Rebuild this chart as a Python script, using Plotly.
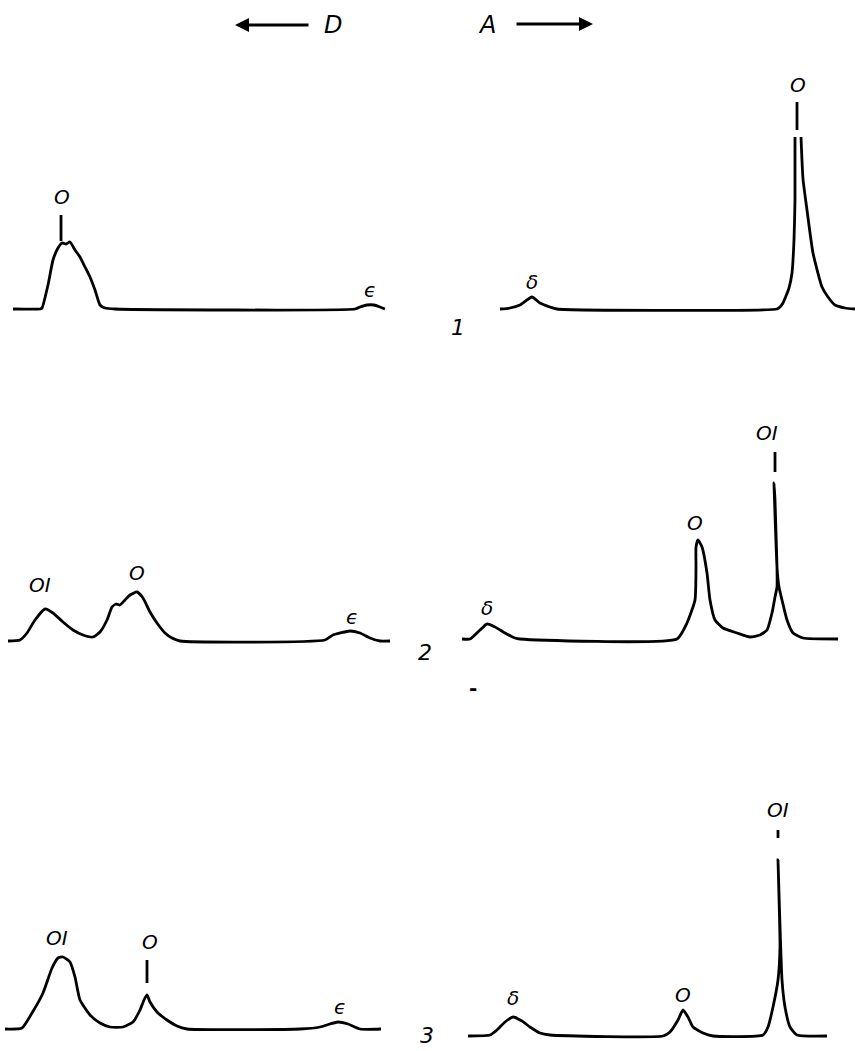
import plotly.graph_objects as go

# ---------------- data (traced densitometer curves, local units) ----------------
# Run 1, cathode side (D)
p1d_x = [0, 27, 29, 35, 40, 45, 49, 53, 57, 62, 67, 72, 77, 82, 87, 92, 102, 342, 347, 354, 361, 367, 372]
p1d_y = [0, 0, 1, 24, 49, 61, 66, 65, 67, 59, 52, 42, 32, 19, 4, 1, 0, 0, 2, 4, 4, 2, 0]
# Run 1, anode side (A)
p1a_x = [0, 10, 20, 32, 40, 50, 57, 277, 280, 283, 286, 289, 292, 294, 295, 295, None,
         301, 303, 307, 313, 322, 328, 335, 345, 355]
p1a_y = [0, 1, 4, 12, 6, 2, 0, 0, 2, 6, 13, 21, 36, 69, 109, 172, None,
         172, 130, 99, 56, 22, 12, 4, 1, 0]
# Run 2
p2d_x = [0, 12, 19, 27, 37, 45, 55, 65, 75, 85, 92, 99, 104, 108, 112, 117, 122, 129, 135, 142,
         149, 157, 164, 172, 317, 325, 342, 352, 362, 372, 382]
p2d_y = [0, 1, 8, 21, 32, 28, 19, 11, 6, 4, 9, 21, 34, 37, 36, 41, 46, 49, 43, 29,
         18, 8, 3, 0, 1, 6, 10, 8, 3, 0, 0]
p2a_x = [0, 8, 18, 25, 33, 43, 53, 58, 215, 225, 233, 234, 234, 236, 240, 245, 248, 253, 261, 275,
         288, 298, 305, 310, 313, 315, 315, 314, 313, 312, 315, 317, 320, 325, 331, 341, 376]
p2a_y = [0, 0, 9, 15, 12, 6, 1, 0, 0, 16, 39, 72, 92, 99, 92, 66, 39, 19, 11, 6,
         2, 4, 9, 26, 42, 52, 72, 106, 139, 156, 72, 52, 39, 19, 6, 1, 0]
# Run 3
p3d_x = [0, 17, 27, 38, 47, 53, 58, 65, 70, 75, 85, 95, 105, 118, 128, 135, 139, 142, 145, 152,
         162, 172, 182, 295, 315, 325, 333, 343, 355, 376]
p3d_y = [0, 1, 16, 36, 61, 71, 72, 67, 52, 29, 14, 6, 2, 2, 7, 19, 29, 34, 27, 17,
         9, 3, 0, 0, 2, 5, 7, 5, 0, 0]
p3a_x = [0, 22, 29, 37, 45, 54, 62, 72, 82, 195, 202, 210, 215, 220, 225, 235, 245, 295, 300, 305,
         310, 312, 311, 310, 314, 317, 322, 329, 359]
p3a_y = [0, 1, 6, 14, 19, 15, 9, 3, 1, 0, 4, 16, 26, 19, 9, 3, 0, 1, 9, 29,
         56, 89, 139, 176, 56, 29, 9, 1, 0]

# peak labels: (text, position, height)
p1d_labels = [("O", 49, 112), ("ϵ", 357, 19)]
p1a_labels = [("δ", 32, 27), ("O", 298, 224)]
p2d_labels = [("OI", 32, 56), ("O", 129, 68), ("ϵ", 344, 24)]
p2a_labels = [("δ", 25, 31), ("O", 233, 116), ("OI", 305, 206)]
p3d_labels = [("OI", 52, 91), ("O", 145, 87), ("ϵ", 335, 22)]
p3a_labels = [("δ", 45, 38), ("O", 215, 41), ("OI", 310, 226)]

# label leader ticks: (position, from, to)
p1d_ticks = [(48, 68, 94)]
p1a_ticks = [(297, 179, 207)]
p2d_ticks = []
p2a_ticks = [(313, 167, 187)]
p3d_ticks = [(142, 46, 69)]
p3a_ticks = [(310, 198, 206)]

run_numbers = ["1", "2", "3"]

# ---------------- layout geometry (pixels) ----------------
W_FIG, H_FIG = 855, 1051
panels = [
    # x0, width, baseline y, data
    (13, 372, 309, p1d_x, p1d_y, p1d_labels, p1d_ticks),
    (500, 355, 309, p1a_x, p1a_y, p1a_labels, p1a_ticks),
    (8, 382, 641, p2d_x, p2d_y, p2d_labels, p2d_ticks),
    (462, 376, 639, p2a_x, p2a_y, p2a_labels, p2a_ticks),
    (5, 376, 1029, p3d_x, p3d_y, p3d_labels, p3d_ticks),
    (468, 359, 1036, p3a_x, p3a_y, p3a_labels, p3a_ticks),
]
YLO, YHI = -10, 240
PAD = 3

FONT = dict(family="DejaVu Sans", color="black", style="italic")
LW = 2.8

fig = go.Figure()
layout = dict(
    width=W_FIG, height=H_FIG, margin=dict(l=0, r=0, t=0, b=0),
    paper_bgcolor="white", plot_bgcolor="white", showlegend=False,
)
annotations = []

for i, (x0, w, yb, xs, ys, labels, ticks) in enumerate(panels, start=1):
    xa = "x" if i == 1 else f"x{i}"
    ya = "y" if i == 1 else f"y{i}"
    xkey = "xaxis" if i == 1 else f"xaxis{i}"
    ykey = "yaxis" if i == 1 else f"yaxis{i}"
    lo = max(x0 - PAD, 0)
    hi = min(x0 + w + PAD, W_FIG)
    layout[xkey] = dict(domain=[lo / W_FIG, hi / W_FIG],
                        range=[lo - x0, hi - x0], visible=False, anchor=ya)
    layout[ykey] = dict(domain=[(H_FIG - (yb - YLO)) / H_FIG, (H_FIG - (yb - YHI)) / H_FIG],
                        range=[YLO, YHI], visible=False, anchor=xa)
    fig.add_trace(go.Scatter(x=xs, y=ys, mode="lines", xaxis=xa, yaxis=ya,
                             line=dict(color="black", width=LW, shape="spline", smoothing=0.5),
                             connectgaps=False, hoverinfo="skip"))
    for (tx, t0, t1) in ticks:
        fig.add_trace(go.Scatter(x=[tx, tx], y=[t0, t1], mode="lines", xaxis=xa, yaxis=ya,
                                 line=dict(color="black", width=LW), hoverinfo="skip"))
    for (txt, lx, ly) in labels:
        annotations.append(dict(text=txt, x=lx, y=ly, xref=xa, yref=ya, showarrow=False,
                                xanchor="center", yanchor="middle",
                                font=dict(size=20, **FONT)))

# run numbers and marks (paper coordinates)
def px(x):
    return x / W_FIG

def py(y):
    return 1 - y / H_FIG

for txt, (x, y) in zip(run_numbers, [(458, 328), (425, 652), (427, 1035)]):
    annotations.append(dict(text=txt, x=px(x), y=py(y), xref="paper", yref="paper",
                            xanchor="center", yanchor="middle",
                            showarrow=False, font=dict(size=22, **FONT)))
annotations.append(dict(text="-", x=px(473), y=py(688), xref="paper", yref="paper",
                        xanchor="center", yanchor="middle",
                        showarrow=False, font=dict(size=20, family="DejaVu Sans", color="black",
                                                   weight="bold")))

# direction header
annotations.append(dict(text="D", x=px(333), y=py(25), xref="paper", yref="paper",
                        xanchor="center", yanchor="middle",
                        showarrow=False, font=dict(size=24, **FONT)))
annotations.append(dict(text="A", x=px(487), y=py(25), xref="paper", yref="paper",
                        xanchor="center", yanchor="middle",
                        showarrow=False, font=dict(size=24, **FONT)))
annotations.append(dict(text="", x=px(235), y=py(25), xref="paper", yref="paper",
                        ax=75, ay=0, showarrow=True, arrowhead=2, arrowsize=1.0,
                        arrowwidth=2.8, arrowcolor="black"))
annotations.append(dict(text="", x=px(593), y=py(24), xref="paper", yref="paper",
                        ax=-78, ay=0, showarrow=True, arrowhead=2, arrowsize=1.0,
                        arrowwidth=2.8, arrowcolor="black"))

layout["annotations"] = annotations
fig.update_layout(**layout)
fig.write_html("out.html")
